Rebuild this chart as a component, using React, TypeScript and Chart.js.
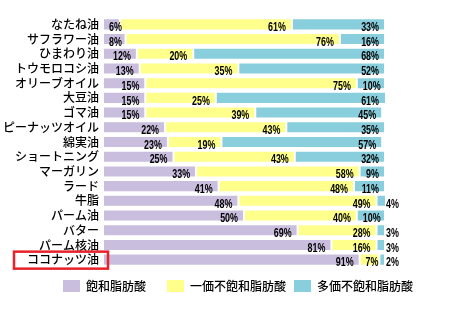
import React, { useEffect, useRef } from "react";
import { Chart, registerables } from "chart.js";

Chart.register(...registerables);

const categories = [
  "なたね油", "サフラワー油", "ひまわり油", "トウモロコシ油", "オリーブオイル",
  "大豆油", "ゴマ油", "ピーナッツオイル", "綿実油", "ショートニング",
  "マーガリン", "ラード", "牛脂", "パーム油", "バター", "パーム核油", "ココナッツ油",
];
const saturated = [6, 8, 12, 13, 15, 15, 15, 22, 23, 25, 33, 41, 48, 50, 69, 81, 91];
const monoUnsaturated = [61, 76, 20, 35, 75, 25, 39, 43, 19, 43, 58, 48, 49, 40, 28, 16, 7];
const polyUnsaturated = [33, 16, 68, 52, 10, 61, 45, 35, 57, 32, 9, 11, 4, 10, 3, 3, 2];
const seriesNames = ["飽和脂肪酸", "一価不飽和脂肪酸", "多価不飽和脂肪酸"];
const seriesColors = ["#C9BEDD", "#FFFF8C", "#89CEDC"];
const highlighted = "ココナッツ油";

const JP_FONT = "'Noto Sans CJK JP', 'Noto Sans', sans-serif";
const NUM_FONT = "'Liberation Sans', Arial, sans-serif";
const NUM_SQUEEZE = 0.66;

const valueLabels = {
  id: "valueLabels",
  afterDatasetsDraw(chart: any) {
    const ctx = chart.ctx;
    ctx.save();
    ctx.font = `bold 13.5px ${NUM_FONT}`;
    ctx.fillStyle = "#000";
    ctx.textBaseline = "middle";
    chart.data.datasets.forEach((ds: any, di: number) => {
      const meta = chart.getDatasetMeta(di);
      meta.data.forEach((el: any, i: number) => {
        const v = ds.data[i];
        const txt = `${v}%`;
        const w = ctx.measureText(txt).width * NUM_SQUEEZE;
        const start = Math.min(el.base, el.x);
        const end = Math.min(Math.max(el.base, el.x), chart.chartArea.right);
        const seg = end - start;
        const y = el.y + 3;
        let left: number;
        if (seg < w) {
          left = end + 1;
        } else {
          left = Math.max(end - 6 - w, start + 6);
        }
        ctx.save();
        ctx.translate(left, y);
        ctx.scale(NUM_SQUEEZE, 1);
        ctx.textAlign = "left";
        ctx.fillText(txt, 0, 0);
        ctx.restore();
      });
    });
    ctx.restore();
  },
};

const extras = {
  id: "extras",
  afterDraw(chart: any) {
    const ctx = chart.ctx;
    const area = chart.chartArea;
    const yScale = chart.scales.y;
    ctx.save();
    const idx = categories.indexOf(highlighted);
    if (idx >= 0) {
      const cy = yScale.getPixelForValue(idx);
      ctx.strokeStyle = "#E8222A";
      ctx.lineWidth = 2.5;
      ctx.strokeRect(14, cy - 8, area.left + 5 - 14, 17);
    }
    const starts = [63, 167, 294];
    const top = area.bottom + 13;
    ctx.font = `500 12px ${JP_FONT}`;
    ctx.textBaseline = "middle";
    ctx.textAlign = "left";
    seriesNames.forEach((name, i) => {
      ctx.fillStyle = seriesColors[i];
      ctx.fillRect(starts[i], top, 17, 12);
      ctx.fillStyle = "#000";
      ctx.fillText(name, starts[i] + 23, top + 6.5);
    });
    ctx.restore();
  },
};

export default function App() {
  const ref = useRef<HTMLCanvasElement>(null);
  useEffect(() => {
    if (!ref.current) return;
    const values = [saturated, monoUnsaturated, polyUnsaturated];
    const chart = new Chart(ref.current, {
      type: "bar",
      data: {
        labels: categories,
        datasets: seriesNames.map((name, i) => ({
          label: name,
          data: values[i],
          backgroundColor: seriesColors[i],
          borderColor: "#FFFFFF",
          borderWidth: 1,
          borderSkipped: false,
          barPercentage: 0.82,
          categoryPercentage: 1,
        })),
      },
      options: {
        indexAxis: "y",
        responsive: false,
        animation: false,
        layout: { padding: { top: 17, bottom: 57, right: 79, left: 0 } },
        plugins: { legend: { display: false }, tooltip: { enabled: false } },
        scales: {
          x: { stacked: true, display: false, min: 0, max: 100 },
          y: {
            stacked: true,
            grid: { display: false, drawTicks: false },
            border: { display: false },
            ticks: {
              autoSkip: false,
              color: "#000",
              padding: 4,
              font: { family: JP_FONT, size: 12, weight: 500 },
            },
            afterFit: (scale: any) => {
              scale.width = 103;
            },
          },
        },
      },
      plugins: [valueLabels, extras],
    });
    return () => chart.destroy();
  }, []);
  return (
    <canvas
      ref={ref}
      width={464}
      height={324}
      style={{ position: "absolute", left: 0, top: 0, width: 464, height: 324 }}
    />
  );
}
